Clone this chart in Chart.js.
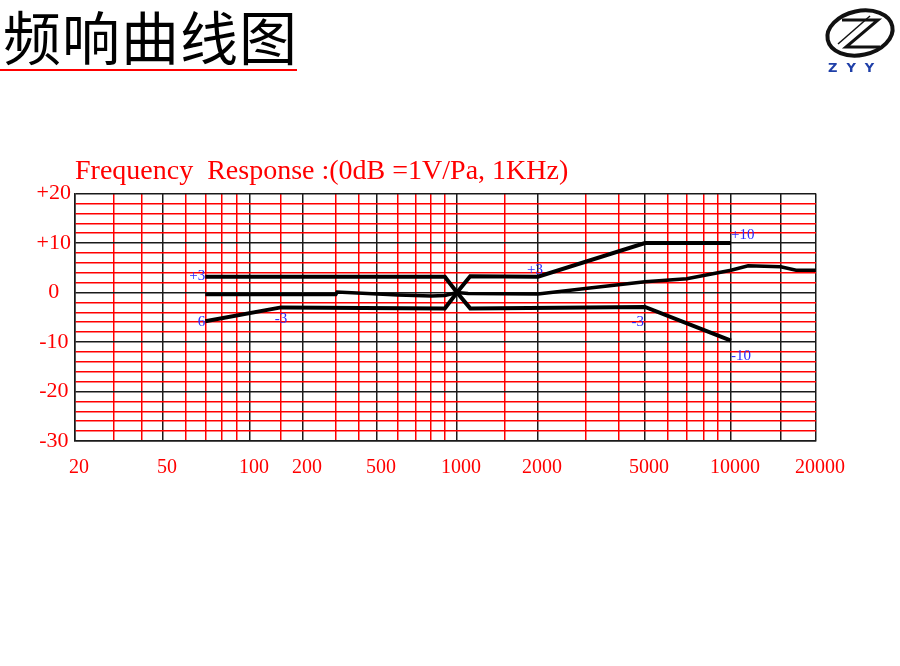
<!DOCTYPE html>
<html lang="zh">
<head>
<meta charset="UTF-8">
<title>频响曲线图</title>
<script src="https://cdn.jsdelivr.net/npm/chart.js@4"></script>
<style>
    body {
        margin: 0;
        width: 900px;
        height: 666px;
        position: relative;
        overflow: hidden;
        background: #fff;
    }
    #chart {
        position: absolute;
        left: 0;
        top: 0;
    }
    .heading {
        position: absolute;
        left: 3px;
        top: -5px;
        font-family: "Noto Sans CJK SC", sans-serif;
        font-size: 58px;
        line-height: 80px;
        color: #000;
        letter-spacing: 1px;
    }
    .rule {
        position: absolute;
        left: 0;
        top: 69px;
        width: 297px;
        height: 2px;
        background: #f00;
    }
    #logo {
        position: absolute;
        left: 820px;
        top: 4px;
    }
</style>
</head>
<body>

<canvas id="chart" width="900" height="666"></canvas>
<div class="heading">频响曲线图</div>
<div class="rule"></div>
<svg id="logo" width="78" height="72" viewBox="0 0 78 72">
    <ellipse cx="40" cy="29" rx="33" ry="22" fill="none" stroke="#111" stroke-width="4" transform="rotate(-12 40 29)"/>
    <path d="M22 16 L58 16 L26 43 L60 43" fill="none" stroke="#111" stroke-width="3"/>
    <path d="M50 12 L18 40" fill="none" stroke="#111" stroke-width="1.5"/>
    <text x="8" y="68" font-family="DejaVu Sans, sans-serif" font-size="13" font-weight="bold" fill="#1f3fa8" letter-spacing="9">ZYY</text>
</svg>

<script>
    // measured response (Hz, dB)
    const responseFreq = [70, 300, 305, 600, 800, 900, 1000, 1100, 2000, 3000, 5000, 7000, 10000, 11500, 15000, 17000, 20000];
    const responseDb = [-0.4, -0.4, 0.1, -0.5, -0.7, -0.6, 0, -0.2, -0.3, 0.8, 2.2, 2.8, 4.5, 5.4, 5.2, 4.5, 4.5];

    // tolerance limits
    const upperFreq = [70, 900, 1000, 1120, 2000, 5000, 10000];
    const upperDb = [3.2, 3.2, 0, 3.3, 3.2, 10, 10];
    const lowerFreq = [70, 150, 900, 1000, 1120, 5000, 10000];
    const lowerDb = [-5.8, -3.0, -3.2, 0, -3.2, -2.9, -9.7];

    // limit annotations
    const noteText = ['+3', '6', '-3', '+3', '-3', '+10', '-10'];
    const noteFreq = [70, 70, 150, 1950, 4700, 10000, 10000];
    const noteDb = [3.3, -5.9, -5.4, 4.5, -6.0, 11.6, -12.9];
    const noteAlign = ['right', 'right', 'center', 'center', 'center', 'left', 'left'];

    // axis ticks
    const freqLabels = [20, 50, 100, 200, 500, 1000, 2000, 5000, 10000, 20000];
    const freqMajor = [20, 50, 100, 200, 500, 1000, 2000, 5000, 10000, 15000, 20000];
    const freqMinor = [30, 40, 60, 70, 80, 90, 150, 300, 400, 600, 700, 800, 900, 1500, 3000, 4000, 6000, 7000, 8000, 9000];
    const dbLabelValues = [20, 10, 0, -10, -20, -30];
    const dbLabels = ['+20', '+10', '0', '-10', '-20', '-30'];

    const RED = '#ff0000';
    const BLACK = '#1a1a1a';
    const SERIF = '"Liberation Serif", "Times New Roman", serif';

    // the printed grid is a hand-drawn log grid: each decade step gets its own width
    const axisStops = [20, 50, 100, 200, 500, 1000, 2000, 5000, 10000, 20000];
    const axisStopPos = [0, 0.1188, 0.2362, 0.3077, 0.4076, 0.5155, 0.6248, 0.7692, 0.8853, 1];

    function freqToDecimal(f) {
        let i = 0;
        while (i < axisStops.length - 2 && f > axisStops[i + 1]) i++;
        const t = Math.log(f / axisStops[i]) / Math.log(axisStops[i + 1] / axisStops[i]);
        return axisStopPos[i] + t * (axisStopPos[i + 1] - axisStopPos[i]);
    }

    function decimalToFreq(d) {
        let i = 0;
        while (i < axisStopPos.length - 2 && d > axisStopPos[i + 1]) i++;
        const t = (d - axisStopPos[i]) / (axisStopPos[i + 1] - axisStopPos[i]);
        return axisStops[i] * Math.pow(axisStops[i + 1] / axisStops[i], t);
    }

    class GridLogScale extends Chart.LinearScale {
        getPixelForValue(value) {
            return this.getPixelForDecimal(freqToDecimal(value));
        }
        getValueForPixel(pixel) {
            return decimalToFreq(this.getDecimalForPixel(pixel));
        }
    }
    GridLogScale.id = 'gridLog';
    GridLogScale.defaults = Chart.LinearScale.defaults;
    Chart.register(GridLogScale);

    function points(fs, ds) {
        return fs.map((f, i) => ({x: f, y: ds[i]}));
    }

    const gridFreqs = freqMajor.concat(freqMinor).sort((a, b) => a - b);

    const notePlugin = {
        id: 'limitNotes',
        afterDatasetsDraw(chart) {
            const {ctx, scales: {x, y}} = chart;
            ctx.save();
            ctx.font = '15px ' + SERIF;
            ctx.fillStyle = '#2a2aff';
            ctx.textBaseline = 'middle';
            noteText.forEach((t, i) => {
                ctx.textAlign = noteAlign[i];
                ctx.fillText(t, x.getPixelForValue(noteFreq[i]), y.getPixelForValue(noteDb[i]));
            });
            ctx.restore();
        }
    };

    const lineStyle = {
        borderColor: '#000',
        borderWidth: 4,
        pointRadius: 0,
        tension: 0,
        fill: false
    };

    new Chart(document.getElementById('chart'), {
        type: 'line',
        data: {
            datasets: [
                Object.assign({label: 'upper', data: points(upperFreq, upperDb)}, lineStyle),
                Object.assign({label: 'lower', data: points(lowerFreq, lowerDb)}, lineStyle),
                Object.assign({label: 'response', data: points(responseFreq, responseDb)}, lineStyle, {borderWidth: 3.5})
            ]
        },
        options: {
            responsive: false,
            animation: false,
            devicePixelRatio: 1,
            layout: {
                padding: {left: 30, right: 84, top: 145, bottom: 185}
            },
            plugins: {
                legend: {display: false},
                tooltip: {enabled: false},
                title: {
                    display: true,
                    text: 'Frequency  Response :(0dB =1V/Pa, 1KHz)',
                    color: RED,
                    align: 'start',
                    fullSize: false,
                    font: {family: SERIF, size: 28, weight: 'normal'},
                    padding: {top: 10, bottom: 5}
                }
            },
            scales: {
                x: {
                    type: 'gridLog',
                    min: 20,
                    max: 20000,
                    afterBuildTicks: (scale) => {
                        scale.ticks = gridFreqs.map(v => ({value: v}));
                    },
                    afterFit: (scale) => {
                        scale.height = 40;
                    },
                    grid: {
                        color: (c) => freqMajor.includes(c.tick.value) ? BLACK : RED,
                        lineWidth: 1.5,
                        drawTicks: false
                    },
                    border: {color: BLACK, width: 1.5},
                    ticks: {
                        autoSkip: false,
                        maxRotation: 0,
                        padding: 15,
                        labelOffset: 4,
                        color: RED,
                        font: {family: SERIF, size: 20},
                        callback: (v) => freqLabels.includes(v) ? String(v) : ''
                    }
                },
                y: {
                    min: -30,
                    max: 20,
                    afterFit: (scale) => {
                        scale.width = 45;
                    },
                    grid: {
                        color: (c) => c.tick.value % 10 === 0 ? BLACK : RED,
                        lineWidth: 1.5,
                        drawTicks: false
                    },
                    border: {color: BLACK, width: 1.5},
                    ticks: {
                        stepSize: 2,
                        autoSkip: false,
                        crossAlign: 'center',
                        padding: 4,
                        color: RED,
                        font: {family: SERIF, size: 22},
                        callback: (v) => {
                            const i = dbLabelValues.indexOf(v);
                            return i >= 0 ? dbLabels[i] : '';
                        }
                    }
                }
            }
        },
        plugins: [notePlugin]
    });
</script>

</body>
</html>
